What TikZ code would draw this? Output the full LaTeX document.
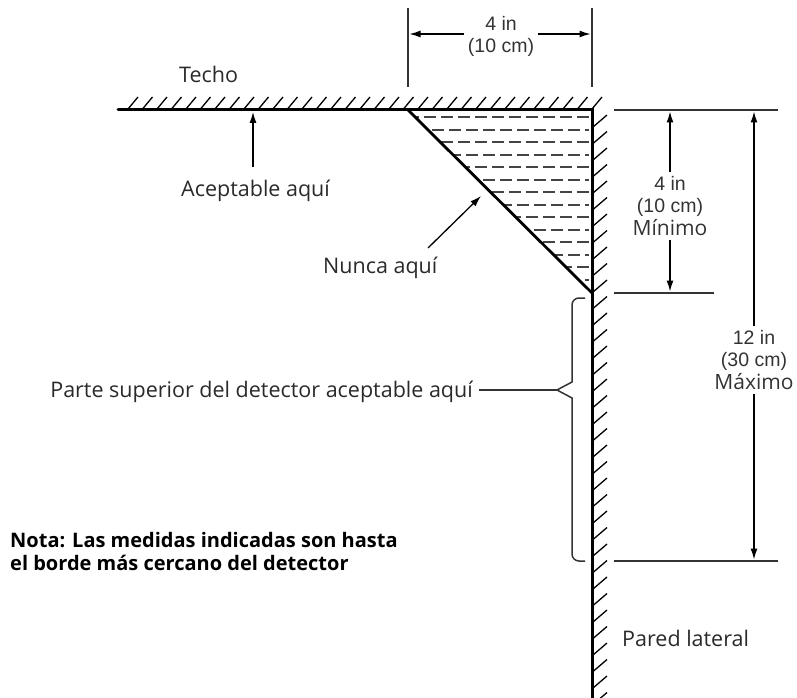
\documentclass[tikz,border=0pt]{standalone}
\usepackage{fontspec}
\setmainfont{Open Sans}
\newfontfamily\helv{Liberation Sans}
\usetikzlibrary{arrows.meta}
\definecolor{txt}{HTML}{2A2A2A}
\definecolor{dimc}{HTML}{333333}
\definecolor{fillc}{HTML}{444444}
\begin{document}
\begin{tikzpicture}[x=1pt,y=-1pt,
  lbl/.style={font=\fontsize{21.5}{24}\selectfont, text=txt, inner sep=0pt},
  notelbl/.style={font=\bfseries\fontsize{20}{23}\selectfont, text=black, inner sep=0pt},
  dimtxt/.style={font=\fontsize{21}{22.5}\selectfont, text=dimc, inner sep=4pt, align=center},
  numfont/.style={font=\helv\fontsize{19.5}{22}\selectfont},
  surface/.style={line width=3pt, line cap=round},
  hatchln/.style={line width=1.3pt},
  refln/.style={line width=1.4pt, draw=dimc},
  arr/.style={-{Latex[length=11pt,width=7pt]}, line width=1.3pt, draw=black},
  bracestyle/.style={line width=1.5pt, draw=dimc}
]
\useasboundingbox (0,0) rectangle (797,698);

% key points
\coordinate (cl) at (118,110);
\coordinate (corner) at (592,110);
\coordinate (wb) at (592,700);
\coordinate (dg) at (408,110);
\coordinate (de) at (592,293);

% dashed fill of the forbidden triangle
\begin{scope}
  \clip (dg) -- (corner) -- (de) -- cycle;
  \foreach \i in {0,...,13}{
    \pgfmathsetmacro{\yy}{round(117+12.5*\i)}
    \pgfmathsetmacro{\ph}{mod(\i,2)*8}
    \draw[line width=2pt, draw=fillc, dash pattern=on 12pt off 5pt, dash phase=\ph pt] (589,\yy) -- (400,\yy);
  }
\end{scope}

% ceiling hatches
\foreach \i in {0,...,32}{
  \draw[hatchln] (128+14.5*\i,109) -- (138+14.5*\i,97);
}
% wall hatches
\foreach \i in {0,...,35}{
  \draw[hatchln] (593,127+16.5*\i) -- (607,115+16.5*\i);
}

% surfaces
\draw[surface] (cl) -- (corner) -- (wb);
\draw[line width=2.8pt] (dg) -- (de);

% top dimension
\coordinate (e1a) at (408,8);  \coordinate (e1b) at (408,87);
\coordinate (e2a) at (592,8);  \coordinate (e2b) at (592,87);
\draw[refln] (e1a) -- (e1b);
\draw[refln] (e2a) -- (e2b);
\node[dimtxt, numfont] (topdim) at (501,36) {4 in\\(10 cm)};
\coordinate (t1) at (409.5,34);
\coordinate (t2) at (590.5,34);
\draw[arr] (topdim.west |- t1) -- (t1);
\draw[arr] (topdim.east |- t2) -- (t2);

% right reference lines
\coordinate (r1a) at (614,110); \coordinate (r1b) at (778,110);
\coordinate (r2a) at (614,293); \coordinate (r2b) at (714,293);
\coordinate (r3a) at (614,561); \coordinate (r3b) at (778,561);
\draw[refln] (r1a) -- (r1b);
\draw[refln] (r2a) -- (r2b);
\draw[refln] (r3a) -- (r3b);

% inner dimension (minimum)
\node[dimtxt] (mindim) at (670,206) {{\helv\fontsize{19.5}{22}\selectfont 4 in}\\{\helv\fontsize{19.5}{22}\selectfont (10 cm)}\\Mínimo};
\coordinate (m1) at (670,111.5);
\coordinate (m2) at (670,291.5);
\draw[arr] (mindim.north) -- (m1);
\draw[arr] (mindim.south) -- (m2);

% outer dimension (maximum)
\node[dimtxt] (maxdim) at (754,360) {{\helv\fontsize{19.5}{22}\selectfont 12 in}\\{\helv\fontsize{19.5}{22}\selectfont (30 cm)}\\Máximo};
\coordinate (x1) at (754,111.5);
\coordinate (x2) at (754,559.5);
\draw[arr] (maxdim.north) -- (x1);
\draw[arr] (maxdim.south) -- (x2);

% brace
\coordinate (btip) at (557,390);
\draw[bracestyle] (585,298) [rounded corners=7pt] -- (572,298) -- (572,330) [sharp corners] -- (572,382) -- (btip) -- (572,398) [rounded corners=7pt] -- (572,561) -- (585,561);

% labels
\node[lbl, anchor=base west] (techo) at (179,83) {Techo};
\node[lbl, anchor=base west] (acep) at (181,196) {Aceptable aquí};
\coordinate (acT) at (253,112);
\draw[arr] (253,167) coordinate (acS) -- (acT);

\node[lbl, anchor=base west] (nunca) at (323,273) {Nunca aquí};
\coordinate (nS) at (428,248);
\coordinate (nT) at (481,196);
\draw[arr] (nS) -- (nT);

\node[lbl, anchor=base east] (parte) at (473,397) {Parte superior del detector aceptable aquí};
\draw[bracestyle] ([xshift=6pt]parte.base east |- btip) -- (btip);

\node[notelbl, anchor=base west] (nota1) at (10,547) {Nota: Las medidas indicadas son hasta};
\node[notelbl, anchor=base west] (nota2) at (10,570) {el borde más cercano del detector};

\node[lbl, anchor=base west] (pared) at (622,646) {Pared lateral};
\end{tikzpicture}
\end{document}
